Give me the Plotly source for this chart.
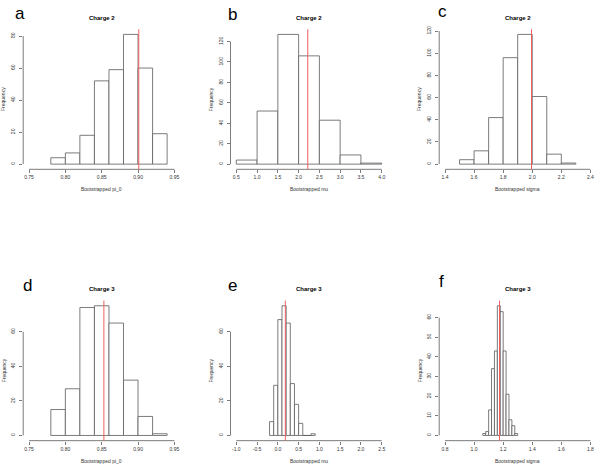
import plotly.graph_objects as go

# ---------------- data ----------------
pi0_c2_breaks = [0.78, 0.80, 0.82, 0.84, 0.86, 0.88, 0.90, 0.92, 0.94]
pi0_c2_counts = [4, 7, 18, 52, 59, 81, 60, 19]

mu_c2_breaks = [0.5, 1.0, 1.5, 2.0, 2.5, 3.0, 3.5, 4.0]
mu_c2_counts = [4, 52, 127, 106, 43, 9, 1]

sigma_c2_breaks = [1.5, 1.6, 1.7, 1.8, 1.9, 2.0, 2.1, 2.2, 2.3]
sigma_c2_counts = [4, 12, 42, 96, 117, 61, 9, 1]

pi0_c3_breaks = [0.78, 0.80, 0.82, 0.84, 0.86, 0.88, 0.90, 0.92, 0.94]
pi0_c3_counts = [15, 27, 74, 75, 65, 32, 11, 1]

mu_c3_breaks = [-0.2, -0.1, 0.0, 0.1, 0.2, 0.3, 0.4, 0.5, 0.6, 0.7, 0.8, 0.9]
mu_c3_counts = [8, 29, 67, 75, 65, 30, 18, 7, 0, 0, 1]

sigma_c3_breaks = [1.06, 1.08, 1.10, 1.12, 1.14, 1.16, 1.18, 1.20, 1.22, 1.24, 1.26, 1.28, 1.30]
sigma_c3_counts = [1, 2, 13, 34, 43, 66, 63, 43, 21, 8, 5, 1]

# reference (estimated) values marked by red vertical lines
ref_values = [0.901, 2.22, 1.995, 0.853, 0.18, 1.175]

# tick labels
xticks_pi0 = ["0.75", "0.80", "0.85", "0.90", "0.95"]
xticks_mu_c2 = ["0.5", "1.0", "1.5", "2.0", "2.5", "3.0", "3.5", "4.0"]
xticks_sigma_c2 = ["1.4", "1.6", "1.8", "2.0", "2.2", "2.4"]
xticks_mu_c3 = ["-1.0", "-0.5", "0.0", "0.5", "1.0", "1.5", "2.0", "2.5"]
xticks_sigma_c3 = ["0.8", "1.0", "1.2", "1.4", "1.6", "1.8"]
yticks_a = [0, 20, 40, 60, 80]
yticks_b = [0, 20, 40, 60, 80, 100, 120]
yticks_c = [0, 20, 40, 60, 80, 100, 120]
yticks_d = [0, 20, 40, 60]
yticks_e = [0, 20, 40, 60]
yticks_f = [0, 10, 20, 30, 40, 50, 60]

letters = ["a", "b", "c", "d", "e", "f"]
titles = ["Charge 2", "Charge 2", "Charge 2", "Charge 3", "Charge 3", "Charge 3"]
xlabels = ["Bootstrapped pi_0", "Bootstrapped mu", "Bootstrapped sigma",
           "Bootstrapped pi_0", "Bootstrapped mu", "Bootstrapped sigma"]

panels = [
    (pi0_c2_breaks, pi0_c2_counts, xticks_pi0, yticks_a),
    (mu_c2_breaks, mu_c2_counts, xticks_mu_c2, yticks_b),
    (sigma_c2_breaks, sigma_c2_counts, xticks_sigma_c2, yticks_c),
    (pi0_c3_breaks, pi0_c3_counts, xticks_pi0, yticks_d),
    (mu_c3_breaks, mu_c3_counts, xticks_mu_c3, yticks_e),
    (sigma_c3_breaks, sigma_c3_counts, xticks_sigma_c3, yticks_f),
]

# ---------------- layout geometry (pixels) ----------------
W, H = 600, 465
col_left = [23.2, 230.5, 439.2]
col_w = 157.0
row_top = [26.4, 299.5]
row_h = 141.0
letter_pos = [(13.3, 11.0), (226.0, 11.3), (436.0, 8.5),
              (20.7, 284.0), (226.0, 284.7), (436.7, 280.7)]

FONT = "Liberation Sans, Arial, Helvetica, sans-serif"
EDGE = "#5a5a5a"
RED = "rgb(240,95,95)"


def px(x):
    return x / W


def py(y):
    return 1 - y / H


fig = go.Figure()
shapes = []
annotations = []
layout = {}

for i, (breaks, counts, xtick_txt, yticks) in enumerate(panels):
    n = i + 1
    xn = "x" if n == 1 else f"x{n}"
    yn = "y" if n == 1 else f"y{n}"
    r, c = divmod(i, 3)
    x0p = col_left[c]
    x1p = x0p + col_w
    y0p = row_top[r]
    y1p = y0p + row_h

    mids = [(breaks[k] + breaks[k + 1]) / 2 for k in range(len(counts))]
    widths = [breaks[k + 1] - breaks[k] for k in range(len(counts))]
    fig.add_trace(go.Bar(
        x=mids, y=counts, width=widths, xaxis=xn, yaxis=yn,
        marker=dict(color="white", line=dict(color=EDGE, width=0.8)),
        hoverinfo="skip", showlegend=False,
    ))

    xtv = [float(t) for t in xtick_txt]
    xlo, xhi = xtv[0], xtv[-1]
    dx = (xhi - xlo) * 0.04
    ymax = max(counts)
    dy = ymax * 0.04

    layout["xaxis" if n == 1 else f"xaxis{n}"] = dict(
        domain=[px(x0p), px(x1p)], range=[xlo - dx, xhi + dx], anchor=yn,
        tickvals=xtv, ticktext=xtick_txt, ticks="outside", ticklen=3,
        tickwidth=0.8, tickcolor=EDGE, showgrid=False, zeroline=False,
        showline=False, tickfont=dict(size=5, color="#333", family=FONT),
        ticklabeloverflow="allow", fixedrange=True,
    )
    layout["yaxis" if n == 1 else f"yaxis{n}"] = dict(
        domain=[py(y1p), py(y0p)], range=[-dy, ymax + dy], anchor=xn,
        tickvals=yticks, ticktext=[str(t) for t in yticks], ticks="outside",
        ticklen=3, tickwidth=0.8, tickcolor=EDGE, showgrid=False,
        zeroline=False, showline=False, tickangle=-90,
        tickfont=dict(size=5, color="#333", family=FONT),
        ticklabeloverflow="allow", ticklabelstandoff=2, fixedrange=True,
    )

    # R-style axis lines spanning first to last tick
    shapes.append(dict(type="line", xref=xn, yref=f"{yn} domain",
                       x0=xtv[0], x1=xtv[-1], y0=0, y1=0,
                       line=dict(color=EDGE, width=0.8)))
    shapes.append(dict(type="line", xref=f"{xn} domain", yref=yn,
                       x0=0, x1=0, y0=yticks[0], y1=yticks[-1],
                       line=dict(color=EDGE, width=0.8)))
    # red reference line
    shapes.append(dict(type="line", xref=xn, yref=f"{yn} domain",
                       x0=ref_values[i], x1=ref_values[i], y0=0, y1=1,
                       line=dict(color=RED, width=1)))

    cx = (x0p + x1p) / 2
    cy = (y0p + y1p) / 2
    annotations.append(dict(text=f"<b>{titles[i]}</b>", x=px(cx), y=py(y0p - 11.5),
                            xref="paper", yref="paper", showarrow=False,
                            xanchor="center", yanchor="middle",
                            font=dict(size=6, color="black", family=FONT)))
    annotations.append(dict(text=xlabels[i], x=px(cx), y=py(y1p + 20.0),
                            xref="paper", yref="paper", showarrow=False,
                            xanchor="center", yanchor="middle",
                            font=dict(size=5, color="#333", family=FONT)))
    annotations.append(dict(text="Frequency", x=px(x0p - 19.5), y=py(cy),
                            xref="paper", yref="paper", showarrow=False,
                            xanchor="center", yanchor="middle", textangle=-90,
                            font=dict(size=5, color="#333", family=FONT)))
    lx, ly = letter_pos[i]
    annotations.append(dict(text=letters[i], x=px(lx), y=py(ly),
                            xref="paper", yref="paper", showarrow=False,
                            xanchor="left", yanchor="middle",
                            font=dict(size=17, color="black", family=FONT)))

fig.update_layout(
    width=W, height=H, margin=dict(l=0, r=0, t=0, b=0),
    paper_bgcolor="white", plot_bgcolor="white", showlegend=False,
    shapes=shapes, annotations=annotations, font=dict(family=FONT),
    bargap=0, **layout,
)

fig.write_html(
    "out.html",
    config={"displayModeBar": False, "staticPlot": True},
    post_script="document.body.style.margin='0';document.body.style.overflow='hidden';",
)
